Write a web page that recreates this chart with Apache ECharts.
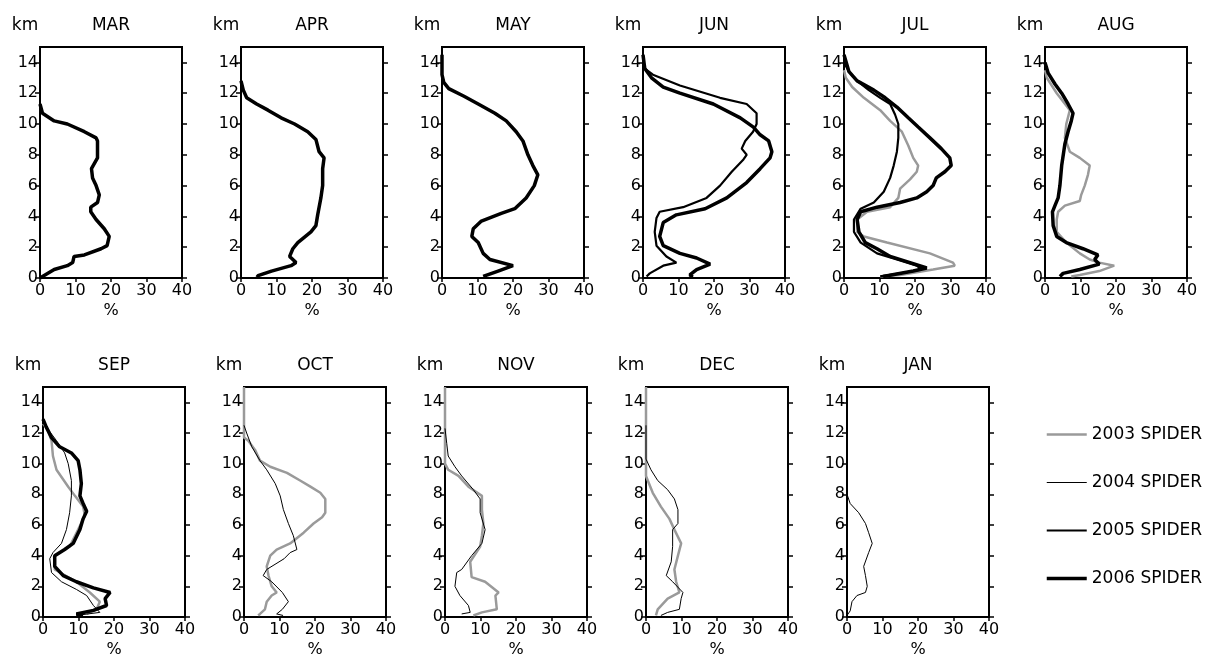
<!DOCTYPE html>
<html>
<head>
<meta charset="utf-8">
<script src="https://cdn.jsdelivr.net/npm/echarts@6/dist/echarts.min.js"></script>
<style>
  html, body { margin: 0; padding: 0; background: #fff; }
  #chart { width: 1217px; height: 659px; }
</style>
</head>
<body>
<div id="chart"></div>
<script>
'use strict';

var years = ['2003 SPIDER', '2004 SPIDER', '2005 SPIDER', '2006 SPIDER'];
var kmTicks = [0, 2, 4, 6, 8, 10, 12, 14];
var pctTicks = [0, 10, 20, 30, 40];

// profiles, each point is [percent, km]
var mar2006 = [[0,11.3],[0.7,10.7],[4,10.2],[7.7,10.0],[12.5,9.5],[15.8,9.1],[16.2,8.9],[16.2,7.8],[14.5,7.1],[14.8,6.5],[15.8,6.0],[16.7,5.4],[16.2,4.9],[14.3,4.6],[14.3,4.3],[15.8,3.8],[18.1,3.2],[19.5,2.7],[18.9,2.1],[17.2,1.9],[12.5,1.5],[9.6,1.4],[9.2,1.0],[7.7,0.8],[4.0,0.55],[0.7,0.1],[0,0]];
var apr2006 = [[0,12.8],[0.65,12.2],[1.6,11.7],[4.4,11.3],[7.6,10.9],[11.3,10.4],[15.1,10.0],[18.8,9.5],[21.1,9.0],[22,8.2],[23.4,7.8],[23,7.1],[23,6.0],[22.5,5.2],[21.6,4.1],[21.1,3.4],[19.7,3.0],[16,2.3],[14.6,1.9],[13.7,1.4],[15.5,1.0],[14.1,0.8],[8.6,0.45],[4.8,0.15],[4.5,0.05]];
var may2006 = [[0,14.5],[0,13.2],[0.5,12.7],[1.9,12.3],[6.2,11.8],[10.2,11.3],[14.9,10.7],[18.1,10.2],[20.9,9.5],[22.8,8.9],[24.2,8.0],[25.6,7.3],[27,6.7],[26,6.0],[23.7,5.2],[20.5,4.5],[16.7,4.2],[11.1,3.7],[8.8,3.2],[8.4,2.7],[10.2,2.3],[11.6,1.6],[13.5,1.2],[20,0.8],[15.8,0.45],[11.6,0.1]];
var jun2005 = [[0,14.2],[0.5,13.6],[2.8,13.2],[10.4,12.5],[21.7,11.7],[29.2,11.3],[32,10.7],[32,10.0],[31,9.5],[28.8,8.9],[27.8,8.4],[29.2,8.0],[28.3,7.7],[25,6.9],[21.7,6.0],[17.9,5.2],[11.3,4.6],[4.7,4.3],[3.8,3.9],[3.3,3.0],[3.8,2.1],[6.6,1.4],[9.4,1.0],[5.7,0.8],[1.9,0.3],[1,0.1]];
var jun2006 = [[0,14.5],[0.5,13.6],[2.4,13.0],[5.7,12.4],[10.4,12.0],[19.8,11.3],[27.4,10.4],[31.1,9.8],[33,9.3],[35.4,8.9],[36.3,8.2],[35.8,7.8],[33,7.1],[29.2,6.2],[23.6,5.2],[17.5,4.5],[9.4,4.1],[5.7,3.6],[4.7,2.7],[5.7,2.1],[10.4,1.6],[15.1,1.3],[18.9,0.9],[15.1,0.55],[13.2,0.2],[14,0.05]];
var jul2003 = [[0,13.5],[0.5,13],[2.3,12.4],[5.6,11.7],[10.2,10.9],[13,10.2],[16.3,9.5],[18.1,8.6],[19.5,7.8],[20.9,7.3],[20.5,6.9],[18.6,6.4],[15.8,5.8],[15.3,5.2],[13,4.6],[6.5,4.3],[3.7,3.8],[3.7,3.0],[5.6,2.7],[12.1,2.3],[24.2,1.6],[30.7,1.0],[31.2,0.8],[25.1,0.55],[15.8,0.2],[10.2,0.1]];
var jul2005 = [[0,14],[1.4,13.4],[3.7,12.8],[7,12.2],[10.2,11.7],[13,11.3],[14.4,10.6],[15.3,10.0],[15.3,9.1],[14.9,8.2],[14,7.3],[13,6.5],[11.2,5.6],[8.4,4.9],[4.7,4.5],[2.8,3.8],[2.8,3.0],[4.7,2.3],[9.3,1.6],[14.9,1.2],[20.5,0.8],[21.9,0.55],[15.8,0.3],[10.2,0.1]];
var jul2006 = [[0,14.5],[1.4,13.4],[3.7,12.8],[8.4,12.2],[11.6,11.7],[14.9,11.1],[18.1,10.4],[20.9,9.8],[24.2,9.1],[27.4,8.4],[29.8,7.8],[30.2,7.3],[28.4,6.9],[26,6.5],[25.1,6.0],[23.3,5.6],[20.5,5.2],[15.8,4.9],[9.3,4.6],[4.7,4.3],[3.7,3.8],[4.2,3.0],[6,2.3],[9.3,1.9],[13,1.4],[18.6,1.0],[23.3,0.65],[19.5,0.45],[11,0.1]];
var aug2003 = [[0,13.5],[0.5,13],[3.3,12],[7,10.9],[6,10],[5.6,9.1],[7,8.2],[9.8,7.8],[12.6,7.3],[12.1,6.7],[11.2,6.0],[10.2,5.4],[9.8,5.0],[5.6,4.7],[3.7,4.3],[3.3,3.8],[3.3,3.0],[6,2.3],[9.8,1.6],[12.6,1.2],[15.3,1.0],[19.5,0.8],[15.3,0.45],[9.8,0.2],[7.4,0.1]];
var aug2006 = [[0,14],[0.9,13.3],[2.8,12.6],[4.7,12.0],[6.5,11.3],[7.9,10.7],[7.4,10.2],[6.5,9.5],[5.6,8.7],[4.7,7.3],[4.2,6.0],[3.7,5.2],[2.8,4.7],[2.1,4.3],[2.3,3.4],[3.3,2.7],[6,2.3],[10.7,1.9],[14.9,1.5],[14,1.2],[15.3,0.9],[9.8,0.55],[5.1,0.3],[4.2,0.1]];
var sep2003 = [[0,12.6],[1.4,12.2],[2.4,11.5],[2.8,10.5],[3.8,9.6],[7.1,8.5],[9,7.9],[11.3,7.2],[11.8,6.6],[9.9,5.7],[7.5,4.6],[3.3,4.0],[3.3,3.1],[9.4,2.3],[13.2,1.6],[16,1.0],[15.1,0.5],[12.3,0.2]];
var sep2004 = [[0,12.8],[0.9,12.4],[3.8,11.5],[6.1,10.7],[7.1,10.0],[8,8.9],[8,7.9],[7.5,6.8],[6.6,5.7],[5.2,4.8],[2.8,4.2],[1.9,3.8],[2.4,2.9],[5.2,2.3],[9.4,1.8],[12.3,1.4],[14.2,0.75],[16,0.3],[11,0.15]];
var sep2006 = [[0,12.9],[0.9,12.4],[2.4,11.7],[4.7,11.1],[8,10.7],[9.9,10.2],[10.4,9.6],[10.8,8.7],[10.4,7.9],[11.3,7.4],[12.3,6.9],[11.3,6.4],[10.4,5.7],[8.5,4.8],[6.1,4.4],[3.3,4.0],[3.3,3.3],[5.7,2.7],[9.4,2.3],[14.2,1.9],[18.9,1.6],[17.5,1.2],[17.9,0.75],[14.2,0.43],[9.4,0.2],[11.3,0.1]];
var oct2003 = [[0,15],[0,11.7],[1.2,11.5],[3.1,10.9],[4.5,10.2],[7.4,9.8],[12.1,9.4],[15.8,8.9],[18.7,8.5],[21.5,8.1],[22.9,7.7],[22.9,6.8],[22,6.5],[19.6,6.1],[16.8,5.5],[13,4.8],[9.2,4.4],[7.4,4.0],[6.4,3.3],[6.9,2.7],[7.8,2.0],[9.2,1.6],[7.8,1.4],[6.4,1.0],[5.9,0.5],[4.5,0.2],[4,0.1]];
var oct2004 = [[0,12.5],[0.75,12],[2.2,11.1],[4.5,10.2],[6.4,9.6],[8.8,8.7],[10.2,7.9],[11.1,7.0],[12.5,6.1],[13.9,5.3],[14.9,4.4],[13,4.2],[11.3,3.8],[6.4,3.1],[5.4,2.7],[7.8,2.3],[10.8,1.6],[12.5,1.0],[10.8,0.5],[9.2,0.2],[11,0.1]];
var nov2003 = [[0,15],[0,10],[0.9,9.6],[3.8,9.2],[6.6,8.5],[10.4,7.9],[10.4,7.0],[10.8,6.1],[10.4,5.3],[9.9,4.6],[7.1,3.6],[7.5,2.6],[11.3,2.3],[15.1,1.6],[14.2,1.4],[14.6,0.5],[10.4,0.3],[8,0.1]];
var nov2004 = [[0,12.3],[0.5,11.3],[0.9,10.5],[2.8,9.8],[4.7,9.2],[8,8.3],[9.9,7.7],[9.9,6.8],[11.3,5.7],[10.4,4.8],[7.5,4.0],[4.7,3.1],[3.3,2.9],[2.8,2.0],[4.2,1.4],[6.6,0.75],[7.1,0.3],[4.7,0.2]];
var dec2003 = [[0,15],[0,9.2],[0.5,8.9],[1.9,8.1],[4.2,7.2],[6.6,6.4],[8,5.7],[9.9,4.8],[9,4.0],[8,3.1],[8.5,2.3],[9.4,1.6],[6.1,1.2],[3.3,0.5],[2.8,0.1]];
var dec2004 = [[0,12.5],[0,10.3],[1.4,9.6],[3.3,8.9],[6.1,8.3],[8,7.7],[9,7.0],[9,6.1],[7.5,5.7],[7.5,4.6],[7.1,3.6],[5.7,2.7],[7.5,2.3],[10.4,1.6],[9.9,1.2],[9.4,0.5],[6.1,0.3],[4.2,0.1]];
var jan2004 = [[0,8.0],[0.9,7.4],[3.3,6.8],[5.2,6.1],[6.1,5.5],[7.1,4.8],[6.1,4.2],[4.7,3.3],[5.2,2.7],[5.7,2.0],[5.2,1.6],[2.8,1.4],[1.4,1.0],[0.9,0.4],[0,0.1]];

var panels = [
    { month: 'MAR', lines: [['2006 SPIDER', mar2006]] },
    { month: 'APR', lines: [['2006 SPIDER', apr2006]] },
    { month: 'MAY', lines: [['2006 SPIDER', may2006]] },
    { month: 'JUN', lines: [['2005 SPIDER', jun2005], ['2006 SPIDER', jun2006]] },
    { month: 'JUL', lines: [['2003 SPIDER', jul2003], ['2005 SPIDER', jul2005], ['2006 SPIDER', jul2006]] },
    { month: 'AUG', lines: [['2003 SPIDER', aug2003], ['2006 SPIDER', aug2006]] },
    { month: 'SEP', lines: [['2003 SPIDER', sep2003], ['2004 SPIDER', sep2004], ['2006 SPIDER', sep2006]] },
    { month: 'OCT', lines: [['2003 SPIDER', oct2003], ['2004 SPIDER', oct2004]] },
    { month: 'NOV', lines: [['2003 SPIDER', nov2003], ['2004 SPIDER', nov2004]] },
    { month: 'DEC', lines: [['2003 SPIDER', dec2003], ['2004 SPIDER', dec2004]] },
    { month: 'JAN', lines: [['2004 SPIDER', jan2004]] }
];

var lineStyles = {
    '2003 SPIDER': { color: '#9a9a9a', width: 2.5 },
    '2004 SPIDER': { color: '#000', width: 1 },
    '2005 SPIDER': { color: '#000', width: 2.2 },
    '2006 SPIDER': { color: '#000', width: 3.5 }
};

var font = 'DejaVu Sans';
var grids = [], xAxes = [], yAxes = [], series = [], texts = [];

panels.forEach(function (p, i) {
    var row = i < 6 ? 0 : 1;
    var col = row === 0 ? i : i - 6;
    var left = (row === 0 ? 40 : 43) + 201 * col;
    var top = row === 0 ? 47 : 387;
    var w = 142, h = 231;

    grids.push({ left: left, top: top, width: w, height: h, show: true, borderColor: '#000', borderWidth: 2 });

    xAxes.push({
        type: 'value', gridIndex: i, min: 0, max: 40, interval: 10,
        name: '%', nameLocation: 'middle', nameGap: 25,
        nameTextStyle: { color: '#000', fontSize: 16, fontFamily: font },
        axisLine: { show: true, lineStyle: { color: '#000', width: 2 } },
        axisTick: { show: true, length: 4, customValues: pctTicks, lineStyle: { color: '#000', width: 1.5 } },
        axisLabel: { color: '#000', fontSize: 16, fontFamily: font, margin: 5, customValues: pctTicks },
        splitLine: { show: false }
    });

    yAxes.push({
        type: 'value', gridIndex: i, min: 0, max: 15, position: 'left',
        axisLine: { show: true, lineStyle: { color: '#000', width: 2 } },
        axisTick: { show: true, length: 5, customValues: kmTicks, lineStyle: { color: '#000', width: 1.5 } },
        axisLabel: { color: '#000', fontSize: 16, fontFamily: font, margin: 2, customValues: kmTicks },
        splitLine: { show: false }
    });
    yAxes.push({
        type: 'value', gridIndex: i, min: 0, max: 15, position: 'right',
        axisLine: { show: true, lineStyle: { color: '#000', width: 2 } },
        axisTick: { show: true, length: 5, customValues: kmTicks, lineStyle: { color: '#000', width: 1.5 } },
        axisLabel: { show: false },
        splitLine: { show: false }
    });

    p.lines.forEach(function (l) {
        var st = lineStyles[l[0]];
        series.push({
            type: 'line', name: l[0], xAxisIndex: i, yAxisIndex: 2 * i,
            data: l[1], symbol: 'none', smooth: false, clip: false,
            color: st.color,
            lineStyle: { color: st.color, width: st.width },
            z: 3
        });
    });

    texts.push({
        type: 'text', x: left - 15, y: top - 21,
        style: { text: 'km', fill: '#000', font: '17px "' + font + '"', textAlign: 'center', textVerticalAlign: 'middle' }
    });
    texts.push({
        type: 'text', x: left + w / 2, y: top - 21,
        style: { text: p.month, fill: '#000', font: '17px "' + font + '"', textAlign: 'center', textVerticalAlign: 'middle' }
    });
});

var legendData = years.map(function (y) {
    return {
        name: y,
        itemStyle: { opacity: 0 },
        lineStyle: { color: lineStyles[y].color, width: lineStyles[y].width }
    };
});

var chart = echarts.init(document.getElementById('chart'));
chart.setOption({
    backgroundColor: '#fff',
    animation: false,
    grid: grids,
    xAxis: xAxes,
    yAxis: yAxes,
    series: series,
    graphic: texts,
    legend: {
        data: legendData,
        orient: 'vertical',
        left: 1040, top: 421,
        itemWidth: 40, itemHeight: 14, itemGap: 31,
        selectedMode: false,
        itemStyle: { opacity: 0 },
        textStyle: { color: '#000', fontSize: 17, fontFamily: font }
    }
});
</script>
</body>
</html>
